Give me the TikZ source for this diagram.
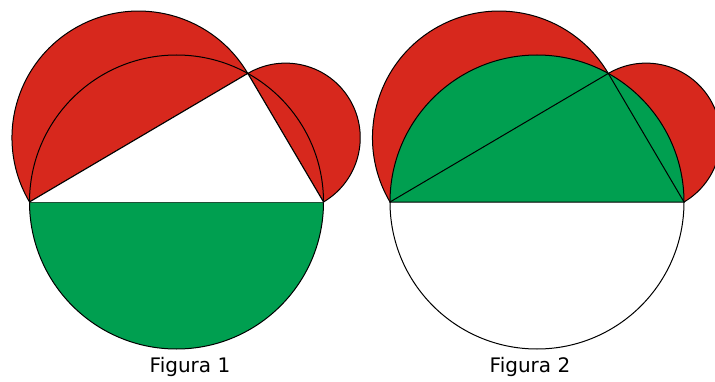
\documentclass[tikz,border=0pt]{standalone}
\usepackage{fontspec}
\setmainfont{DejaVu Sans}
\usetikzlibrary{positioning}
\definecolor{luneRed}{RGB}{215,40,29}
\definecolor{luneGreen}{RGB}{0,159,80}
\tikzset{
	redpart/.style={fill=luneRed, draw=black, line width=1pt},
	greenpart/.style={fill=luneGreen, draw=black, line width=1pt},
	edgeline/.style={draw=black, line width=1pt, line join=round},
	caption/.style={font=\fontsize{20}{22}\selectfont, inner sep=0pt}
}

\begin{document}
\begin{tikzpicture}[x=1pt,y=1pt]
	\useasboundingbox (0,0) rectangle (715,381);
	% Figura 1
	\coordinate (o1) at (176.5,179);
	\coordinate (a1) at (29.5,179);
	\coordinate (b1) at (323.5,179);
	\coordinate (c1) at ([shift={(o1)}]61:147);
	\draw[redpart] (c1) arc[start angle=30.5, end angle=210.5, radius=126.66] -- cycle;
	\draw[redpart] (b1) arc[start angle=-59.5, end angle=120.5, radius=74.6] -- cycle;
	\draw[greenpart] (a1) arc[start angle=180, end angle=360, radius=147] -- cycle;
	\fill[white] (a1) -- (b1) -- (c1) -- cycle;
	\draw[edgeline] (a1) -- (c1) -- (b1);
	\draw[edgeline] (b1) arc[start angle=0, end angle=180, radius=147];
	\node[caption] (cap1) at (190,14) {Figura 1};
	% Figura 2
	\coordinate (o2) at (537,179);
	\coordinate (a2) at (390,179);
	\coordinate (b2) at (684,179);
	\coordinate (c2) at ([shift={(o2)}]61:147);
	\draw[redpart] (c2) arc[start angle=30.5, end angle=210.5, radius=126.66] -- cycle;
	\draw[redpart] (b2) arc[start angle=-59.5, end angle=120.5, radius=74.6] -- cycle;
	\draw[greenpart] (b2) arc[start angle=0, end angle=180, radius=147] -- cycle;
	\draw[edgeline] (a2) -- (c2) -- (b2);
	\draw[edgeline] (a2) arc[start angle=180, end angle=360, radius=147];
	\node[caption] (cap2) at (530,14) {Figura 2};
\end{tikzpicture}
\end{document}
